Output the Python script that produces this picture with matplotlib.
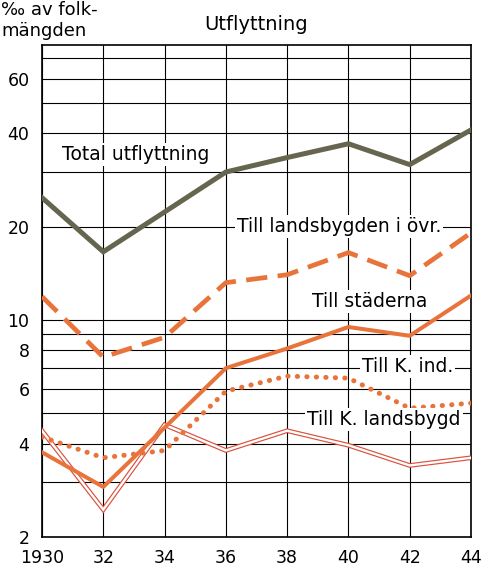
import matplotlib.pyplot as plt
import numpy as np

plt.rcParams['font.family'] = 'DejaVu Sans'

# ================= data (‰ av folkmängden) =================
years = [1930, 1932, 1934, 1936, 1938, 1940, 1942, 1944]
total = [24.8, 16.6, 22.3, 30.0, 33.4, 37.0, 31.7, 41.0]
landsbygden_ovr = [11.9, 7.6, 8.8, 13.2, 14.0, 16.5, 13.9, 19.1]
staderna = [3.75, 2.9, 4.5, 7.0, 8.1, 9.5, 8.9, 12.0]
k_ind = [4.2, 3.6, 3.8, 5.9, 6.6, 6.5, 5.2, 5.4]
k_landsbygd = [4.4, 2.45, 4.6, 3.8, 4.4, 3.95, 3.4, 3.6]

x_ticklabels = ['1930', '32', '34', '36', '38', '40', '42', '44']
y_ticks = [2, 4, 6, 8, 10, 20, 40, 60]
y_grid = [2, 3, 4, 5, 6, 7, 8, 9, 10, 20, 30, 40, 50, 60, 70]

ORANGE = '#e8743c'
RED = '#d9503c'
OLIVE = '#66654f'

fig = plt.figure(figsize=(4.85, 5.68), dpi=100)
ax = fig.add_axes([0.0866, 0.0546, 0.8845, 0.8662])

ax.set_yscale('log')
ax.set_xlim(1930, 1944)
ax.set_ylim(2, 77)

# grid
for g in y_grid:
    ax.axhline(g, color='black', lw=0.8, zorder=1)
for yr in years:
    ax.axvline(yr, color='black', lw=0.8, zorder=1)

# lines
ax.plot(years, total, color=OLIVE, lw=3.6, solid_joinstyle='miter', zorder=5)
ax.plot(years, landsbygden_ovr, color=ORANGE, lw=3.4, dashes=(4.5, 2.2), zorder=5)
ax.plot(years, staderna, color=ORANGE, lw=2.9, zorder=6)
ax.plot(years, k_ind, color=ORANGE, lw=3.6, linestyle=(0, (0.05, 1.85)),
        dash_capstyle='round', zorder=5)
ax.plot(years, k_landsbygd, color=RED, lw=3.4, solid_joinstyle='miter', zorder=4)
ax.plot(years, k_landsbygd, color='white', lw=1.7, solid_joinstyle='miter', zorder=4)

# labels
box = dict(facecolor='white', edgecolor='none', pad=1.5)
lab_fs = 13.5
ax.text(1930.65, 34.1, 'Total utflyttning', fontsize=lab_fs, va='center', bbox=box, zorder=7)
ax.text(1936.36, 20, 'Till landsbygden i övr.', fontsize=lab_fs, va='center', bbox=box, zorder=7)
ax.text(1938.8, 11.46, 'Till städerna', fontsize=lab_fs, va='center', bbox=box, zorder=7)
ax.text(1940.44, 7.08, 'Till K. ind.', fontsize=lab_fs, va='center', bbox=box, zorder=7)
ax.text(1938.65, 4.78, 'Till K. landsbygd', fontsize=lab_fs, va='center', bbox=box, zorder=7)

# axes
ax.set_xticks(years)
ax.set_xticklabels(x_ticklabels)
ax.set_yticks(y_ticks)
ax.set_yticklabels([str(v) for v in y_ticks])
ax.yaxis.set_minor_locator(plt.NullLocator())
ax.tick_params(axis='both', length=0, labelsize=12.5)
ax.tick_params(axis='y', pad=9)
ax.tick_params(axis='x', pad=9)
for s in ax.spines.values():
    s.set_linewidth(1.2)

fig.text(256 / 485, 1 - 24 / 568, 'Utflyttning', fontsize=14, ha='center', va='center')
fig.text(1 / 485, 1 - 10 / 568, '‰ av folk-', fontsize=13, ha='left', va='center')
fig.text(1 / 485, 1 - 31 / 568, 'mängden', fontsize=13, ha='left', va='center')

fig.savefig('out.png', dpi=100, facecolor='white')
